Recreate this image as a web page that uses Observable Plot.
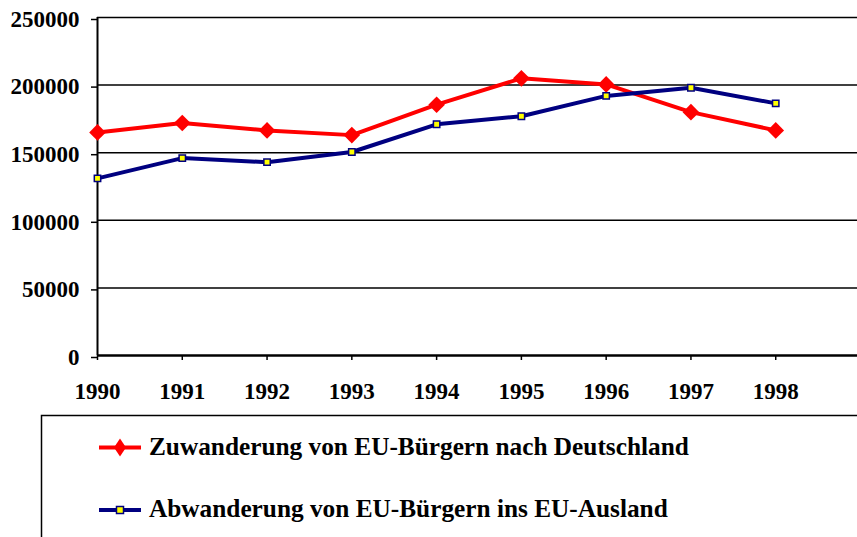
<!DOCTYPE html>
<html><head><meta charset="utf-8">
<script src="https://cdn.jsdelivr.net/npm/d3@7"></script>
<script src="https://cdn.jsdelivr.net/npm/@observablehq/plot@0.6"></script>
<style>
body{margin:0;background:#fff;}
#wrap{position:relative;width:857px;height:537px;overflow:hidden;background:#fff;}
#chart{position:absolute;left:0;top:0;}
#legend{position:absolute;left:0;top:0;}
</style></head><body>
<div id="wrap"><div id="chart"></div><svg id="legend" width="857" height="537"></svg></div>
<script>
const years = [1990, 1991, 1992, 1993, 1994, 1995, 1996, 1997, 1998];
const zuwanderung = [165000, 172000, 166500, 163000, 185500, 205000, 200500, 180000, 166500];
const abwanderung = [131000, 146000, 143000, 150500, 171000, 177000, 192000, 198000, 186500];
const yTicks = [0, 50000, 100000, 150000, 200000, 250000];
const seriesNames = ["Zuwanderung von EU-Bürgern nach Deutschland", "Abwanderung von EU-Bürgern ins EU-Ausland"];
const colors = ["#FF0000", "#000080"];

const zu = years.map((y, i) => ({year: y, value: zuwanderung[i]}));
const ab = years.map((y, i) => ({year: y, value: abwanderung[i]}));

const font = '"Liberation Serif", "Times New Roman", serif';

const plot = Plot.plot({
  width: 857,
  height: 400,
  marginTop: 17,
  marginBottom: 45,
  marginLeft: 97,
  marginRight: 0,
  style: {fontFamily: font, fontWeight: "bold", fontSize: "23px", color: "#000", background: "transparent", overflow: "visible"},
  x: {domain: [1990, 1999], range: [97, 860]},
  y: {domain: [0, 250000], range: [355, 17]},
  marks: [
    Plot.ruleY(yTicks.filter(d => d > 0), {stroke: "#000", strokeWidth: 1.5}),
    Plot.ruleY([0], {stroke: "#000", strokeWidth: 2.5}),
    Plot.ruleX([1990], {stroke: "#000", strokeWidth: 2}),
    Plot.axisY({ticks: yTicks, tickFormat: d => String(d), tickSize: 6, tickPadding: 12, strokeWidth: 1.5, fontSize: 23, dy: 2, label: null}),
    Plot.axisX({ticks: years, tickFormat: d => String(d), tickSize: 5, tickPadding: 22, strokeWidth: 1.5, fontSize: 23, label: null}),
    Plot.line(zu, {x: "year", y: "value", stroke: colors[0], strokeWidth: 4}),
    Plot.line(ab, {x: "year", y: "value", stroke: colors[1], strokeWidth: 4}),
    Plot.dot(zu, {x: "year", y: "value", symbol: "diamond2", r: 7.5, fill: colors[0], stroke: "none"}),
    Plot.dot(ab, {x: "year", y: "value", symbol: "square", r: 3.6, fill: "#FFFF00", stroke: colors[1], strokeWidth: 1.5})
  ]
});
document.getElementById("chart").appendChild(plot);

// Legend
const lg = d3.select("#legend");
lg.append("path").attr("d", "M41.5,537 V415.5 H857").attr("fill", "none").attr("stroke", "#000").attr("stroke-width", 1.5);
const rows = [{y: 447.5, base: 455}, {y: 510, base: 517}];
rows.forEach((r, i) => {
  lg.append("line").attr("x1", 99).attr("x2", 141).attr("y1", r.y).attr("y2", r.y)
    .attr("stroke", colors[i]).attr("stroke-width", 4);
  if (i === 0) {
    lg.append("path").attr("d", `M120,${r.y - 9} L126,${r.y} L120,${r.y + 9} L114,${r.y} Z`).attr("fill", colors[0]);
  } else {
    lg.append("rect").attr("x", 116.5).attr("y", r.y - 3.5).attr("width", 7).attr("height", 7)
      .attr("fill", "#FFFF00").attr("stroke", colors[1]).attr("stroke-width", 1.5);
  }
  lg.append("text").attr("x", 149).attr("y", r.base).text(seriesNames[i])
    .attr("font-family", font).attr("font-weight", "bold").attr("font-size", 25.3).attr("fill", "#000");
});
</script>
</body></html>
